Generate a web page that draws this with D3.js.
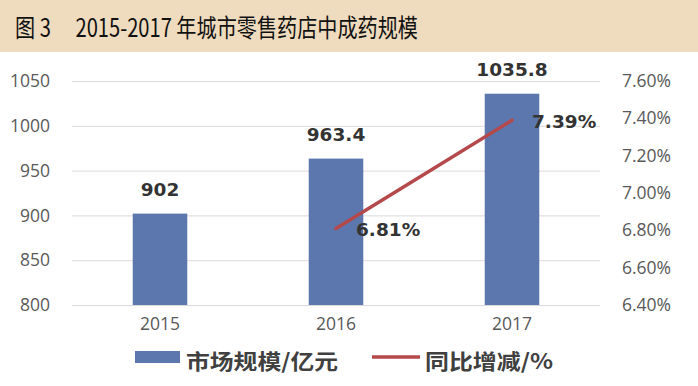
<!DOCTYPE html>
<html>
<head>
<meta charset="utf-8">
<script src="https://cdn.jsdelivr.net/npm/d3@7.9.0/dist/d3.min.js"></script>
<style>
  body { margin: 0; background: #fff; }
  svg { display: block; }
</style>
</head>
<body>
<div id="chart"></div>
<script>
const years = ["2015", "2016", "2017"];
const marketSize = [902, 963.4, 1035.8];
const growthYears = ["2016", "2017"];
const growthRate = [6.81, 7.39];
const leftTicks = [800, 850, 900, 950, 1000, 1050];
const rightTicks = [6.4, 6.6, 6.8, 7.0, 7.2, 7.4, 7.6];

const width = 698;
const height = 386;
const cjkFont = "'Noto Sans CJK SC', 'Noto Sans', sans-serif";
const axisFont = "'Open Sans', 'Noto Sans', sans-serif";
const labelFont = "'DejaVu Sans', Verdana, sans-serif";

const svg = d3.select("#chart")
  .append("svg")
  .attr("width", width)
  .attr("height", height)
  .style("font-family", cjkFont);

// title band
svg.append("rect")
  .attr("x", 0).attr("y", 0)
  .attr("width", width).attr("height", 52)
  .attr("fill", "#efdcbf");

svg.append("text")
  .attr("x", 15)
  .attr("y", 37)
  .attr("font-size", 25)
  .attr("fill", "#111")
  .attr("textLength", 403)
  .attr("lengthAdjust", "spacingAndGlyphs")
  .text("图 3　 2015-2017 年城市零售药店中成药规模");

const plot = { left: 72, right: 600, top: 81, bottom: 305 };

const x = d3.scaleBand()
  .domain(years)
  .range([plot.left, plot.right])
  .paddingInner(0.69)
  .paddingOuter(0.345);

const y = d3.scaleLinear()
  .domain([800, 1050])
  .range([plot.bottom, plot.top]);

const y2 = d3.scaleLinear()
  .domain([6.4, 7.6])
  .range([plot.bottom, plot.top]);

// gridlines
svg.append("g")
  .attr("transform", `translate(${plot.left},0)`)
  .call(d3.axisLeft(y).tickValues(leftTicks).tickFormat("").tickSize(-(plot.right - plot.left)))
  .call(g => g.select(".domain").remove())
  .selectAll("line")
  .attr("stroke", "#d9d9d9")
  .attr("stroke-width", 1);

// left axis labels
svg.append("g")
  .attr("transform", `translate(${plot.left},0)`)
  .call(d3.axisLeft(y).tickValues(leftTicks).tickSize(0).tickPadding(22).tickFormat(d3.format("d")))
  .call(g => g.select(".domain").remove())
  .selectAll("text")
  .attr("font-family", axisFont)
  .attr("font-size", 17.5)
  .attr("fill", "#595959");

// right axis labels
svg.append("g")
  .attr("transform", `translate(${plot.right},0)`)
  .call(d3.axisRight(y2).tickValues(rightTicks).tickSize(0).tickPadding(22).tickFormat(d => d.toFixed(2) + "%"))
  .call(g => g.select(".domain").remove())
  .selectAll("text")
  .attr("font-family", axisFont)
  .attr("font-size", 17.5)
  .attr("fill", "#595959");

// x axis labels
svg.append("g")
  .attr("transform", `translate(0,${plot.bottom})`)
  .call(d3.axisBottom(x).tickSize(0).tickPadding(13))
  .call(g => g.select(".domain").remove())
  .selectAll("text")
  .attr("font-family", axisFont)
  .attr("font-size", 17.5)
  .attr("fill", "#595959");

// bars
svg.append("g")
  .selectAll("rect")
  .data(years)
  .join("rect")
  .attr("x", d => x(d))
  .attr("y", (d, i) => y(marketSize[i]))
  .attr("width", x.bandwidth())
  .attr("height", (d, i) => plot.bottom - y(marketSize[i]))
  .attr("fill", "#5b77ad");

// bar labels
svg.append("g")
  .selectAll("text")
  .data(years)
  .join("text")
  .attr("x", d => x(d) + x.bandwidth() / 2)
  .attr("y", (d, i) => y(marketSize[i]) - 17.5)
  .attr("text-anchor", "middle")
  .attr("font-family", labelFont)
  .attr("font-weight", "bold")
  .attr("font-size", 18.5)
  .attr("fill", "#333")
  .text((d, i) => marketSize[i]);

// growth line
const line = d3.line()
  .x((d, i) => x(growthYears[i]) + x.bandwidth() / 2)
  .y(d => y2(d));

svg.append("path")
  .datum(growthRate)
  .attr("d", line)
  .attr("fill", "none")
  .attr("stroke", "#b5484b")
  .attr("stroke-width", 3.5)
  .attr("stroke-linecap", "round");

svg.append("g")
  .selectAll("text")
  .data(growthRate)
  .join("text")
  .attr("x", (d, i) => x(growthYears[i]) + x.bandwidth() / 2 + 20)
  .attr("y", d => y2(d) + 7.5)
  .attr("font-family", labelFont)
  .attr("font-weight", "bold")
  .attr("font-size", 18.5)
  .attr("fill", "#333")
  .text(d => d.toFixed(2) + "%");

// legend
const legend = svg.append("g")
  .attr("font-family", cjkFont)
  .attr("font-weight", "bold")
  .attr("font-size", 21)
  .attr("fill", "#404040");
legend.append("rect")
  .attr("x", 135).attr("y", 351)
  .attr("width", 45).attr("height", 12)
  .attr("fill", "#5b77ad");
legend.append("text")
  .attr("x", 186).attr("y", 369)
  .attr("textLength", 152)
  .attr("lengthAdjust", "spacingAndGlyphs")
  .text("市场规模/亿元");
legend.append("line")
  .attr("x1", 372).attr("x2", 420)
  .attr("y1", 357).attr("y2", 357)
  .attr("stroke", "#b5484b")
  .attr("stroke-width", 3.5);
legend.append("text")
  .attr("x", 425).attr("y", 369)
  .attr("textLength", 128)
  .attr("lengthAdjust", "spacingAndGlyphs")
  .text("同比增减/%");
</script>
</body>
</html>
